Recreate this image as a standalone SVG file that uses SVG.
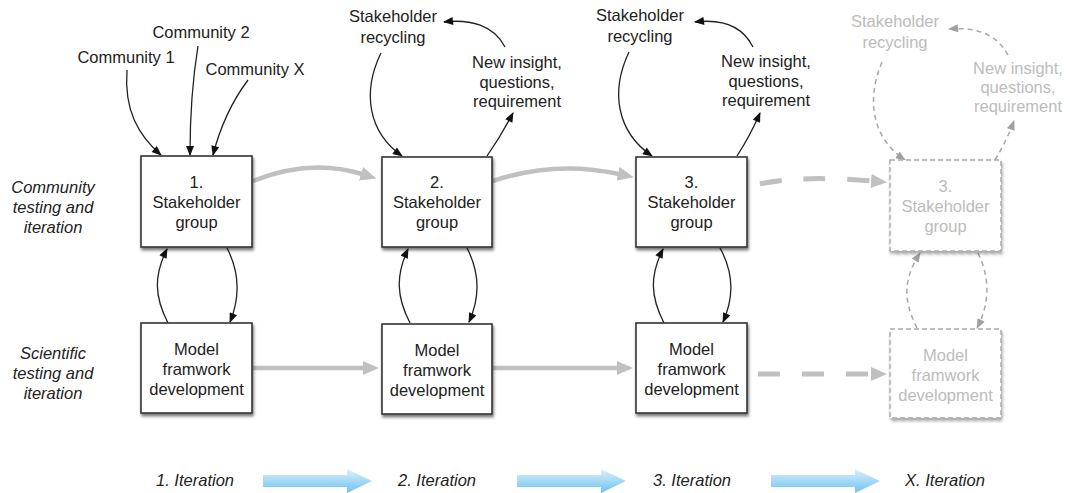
<svg xmlns="http://www.w3.org/2000/svg" width="1070" height="493" viewBox="0 0 1070 493">
<defs>
<style>
.t{font-family:"Liberation Sans",Arial,sans-serif;font-size:16.5px;fill:#222;text-anchor:middle}
.i{font-style:italic}
.g{fill:#bcbcbc}
.box{fill:#fff;stroke:#333;stroke-width:1.6;filter:url(#sh)}
.gbox{fill:#fff;stroke:#aaa;stroke-width:1.5;stroke-dasharray:5 3;filter:url(#sh2)}
.blk{fill:none;stroke:#222;stroke-width:1.3;marker-end:url(#ab)}
.gd{fill:none;stroke:#a8a8a8;stroke-width:1.5;stroke-dasharray:5 4;marker-end:url(#agd)}
.gr{fill:none;stroke:#c0c0c0;stroke-width:4.5;marker-end:url(#ag)}
.grd{fill:none;stroke:#c0c0c0;stroke-width:5;stroke-dasharray:22 22;marker-end:url(#ag)}
</style>
<filter id="sh" x="-10%" y="-10%" width="125%" height="130%"><feDropShadow dx="1" dy="2.5" stdDeviation="1.6" flood-color="#000" flood-opacity="0.55"/></filter>
<filter id="sh2" x="-10%" y="-10%" width="125%" height="130%"><feDropShadow dx="1" dy="2.5" stdDeviation="1.6" flood-color="#000" flood-opacity="0.35"/></filter>
<marker id="ab" viewBox="0 0 10 8" refX="9" refY="4" markerWidth="11" markerHeight="8" markerUnits="userSpaceOnUse" orient="auto"><path d="M0,0 L10,4 L0,8 z" fill="#111"/></marker>
<marker id="agd" viewBox="0 0 10 8" refX="9" refY="4" markerWidth="11" markerHeight="8" markerUnits="userSpaceOnUse" orient="auto"><path d="M0,0 L10,4 L0,8 z" fill="#a0a0a0"/></marker>
<marker id="ag" viewBox="0 0 16 14" refX="1" refY="7" markerWidth="16" markerHeight="14" markerUnits="userSpaceOnUse" orient="auto"><path d="M0,0 L16,7 L0,14 z" fill="#c0c0c0"/></marker>
<linearGradient id="bl" x1="0" y1="0" x2="0" y2="1"><stop offset="0" stop-color="#dcf0fb"/><stop offset="1" stop-color="#6cc2ef"/></linearGradient>
<path id="barrow" d="M0,-6 L84,-6 L84,-12 L109,0 L84,12 L84,6 L0,6 z"/>
</defs>

<g id="connectors">
<!-- community inputs -->
<path class="blk" d="M127,70 C124,110 138,135 161,155"/>
<path class="blk" d="M198,46 Q190,95 190,155"/>
<path class="blk" d="M248,80 Q224,112 213,155"/>
<!-- iteration 2 loop -->
<path class="blk" d="M381,53 C362,92 368,132 402,156"/>
<path class="blk" d="M487,156 Q501,136 513,113"/>
<path class="blk" d="M505,47 C494,25 470,19 444,22"/>
<!-- iteration 3 loop -->
<path class="blk" d="M629,52 C610,92 617,132 652,156"/>
<path class="blk" d="M737,156 Q750,136 760,113"/>
<path class="blk" d="M753,47 C742,25 720,19 695,22"/>
<!-- iteration X loop -->
<path class="gd" d="M882,62 C866,100 872,138 905,160"/>
<path class="gd" d="M995,160 Q1006,142 1014,121"/>
<path class="gd" d="M1008,55 C996,33 975,27 949,29"/>
<!-- vertical loops -->
<path class="blk" d="M168,323 C154,296 154,275 167,249"/>
<path class="blk" d="M227,248 C241,275 239,300 230,322"/>
<path class="blk" d="M410,323 C396,296 396,275 408,249"/>
<path class="blk" d="M467,248 C481,275 479,300 469,322"/>
<path class="blk" d="M664,323 C650,296 650,275 663,249"/>
<path class="blk" d="M720,248 C735,275 733,300 723,322"/>
<path class="gd" d="M917,328 C903,300 903,280 920,253"/>
<path class="gd" d="M978,253 C991,280 989,305 977,328"/>
<!-- horizontal grey -->
<path class="gr" d="M253,181 Q310,158 362,174"/>
<path class="gr" d="M493,181 Q555,160 619,174"/>
<path class="grd" d="M760,184 Q800,175 872,181"/>
<path class="gr" d="M253,368 L364,368"/>
<path class="gr" d="M493,368 L618,368"/>
<path class="grd" d="M758,374 L872,374"/>
</g>

<g id="labels-top">
<text class="t" x="126" y="63">Community 1</text>
<text class="t" x="201" y="38">Community 2</text>
<text class="t" x="255" y="75">Community X</text>
<text class="t" x="393" y="22">Stakeholder</text>
<text class="t" x="393" y="43">recycling</text>
<text class="t" x="517" y="68">New insight,</text>
<text class="t" x="517" y="88">questions,</text>
<text class="t" x="517" y="107">requirement</text>
<text class="t" x="640" y="21">Stakeholder</text>
<text class="t" x="640" y="42">recycling</text>
<text class="t" x="766" y="67">New insight,</text>
<text class="t" x="766" y="87">questions,</text>
<text class="t" x="766" y="106">requirement</text>
<text class="t g" x="895" y="27">Stakeholder</text>
<text class="t g" x="895" y="48">recycling</text>
<text class="t g" x="1018" y="74">New insight,</text>
<text class="t g" x="1018" y="93">questions,</text>
<text class="t g" x="1018" y="112">requirement</text>
</g>

<g id="row-labels">
<text class="t i" x="53" y="193">Community</text>
<text class="t i" x="53" y="213">testing and</text>
<text class="t i" x="53" y="233">iteration</text>
<text class="t i" x="53" y="359">Scientific</text>
<text class="t i" x="53" y="379">testing and</text>
<text class="t i" x="53" y="399">iteration</text>
</g>

<g id="node-s1"><rect class="box" x="141" y="156" width="111" height="91"/>
<text class="t" x="196.5" y="188">1.</text><text class="t" x="196.5" y="208">Stakeholder</text><text class="t" x="196.5" y="228">group</text></g>
<g id="node-s2"><rect class="box" x="382" y="157" width="110" height="90"/>
<text class="t" x="437" y="188">2.</text><text class="t" x="437" y="208">Stakeholder</text><text class="t" x="437" y="228">group</text></g>
<g id="node-s3"><rect class="box" x="636" y="157" width="111" height="90"/>
<text class="t" x="691.5" y="188">3.</text><text class="t" x="691.5" y="208">Stakeholder</text><text class="t" x="691.5" y="228">group</text></g>
<g id="node-s4"><rect class="gbox" x="890" y="160" width="111" height="91"/>
<text class="t g" x="945.5" y="192">3.</text><text class="t g" x="945.5" y="212">Stakeholder</text><text class="t g" x="945.5" y="232">group</text></g>

<g id="node-m1"><rect class="box" x="141" y="323" width="111" height="90"/>
<text class="t" x="196.5" y="355">Model</text><text class="t" x="196.5" y="375">framwork</text><text class="t" x="196.5" y="395">development</text></g>
<g id="node-m2"><rect class="box" x="382" y="324" width="110" height="90"/>
<text class="t" x="437" y="356">Model</text><text class="t" x="437" y="376">framwork</text><text class="t" x="437" y="396">development</text></g>
<g id="node-m3"><rect class="box" x="636" y="323" width="111" height="90"/>
<text class="t" x="691.5" y="355">Model</text><text class="t" x="691.5" y="375">framwork</text><text class="t" x="691.5" y="395">development</text></g>
<g id="node-m4"><rect class="gbox" x="890" y="329" width="111" height="89"/>
<text class="t g" x="945.5" y="361">Model</text><text class="t g" x="945.5" y="381">framwork</text><text class="t g" x="945.5" y="401">development</text></g>

<g id="iterations">
<text class="t i" x="195" y="486">1. Iteration</text>
<text class="t i" x="437" y="486">2. Iteration</text>
<text class="t i" x="692" y="486">3. Iteration</text>
<text class="t i" x="945" y="486">X. Iteration</text>
<use href="#barrow" x="263" y="481" fill="url(#bl)"/>
<use href="#barrow" x="517" y="481" fill="url(#bl)"/>
<use href="#barrow" x="771" y="481" fill="url(#bl)"/>
</g>
</svg>
